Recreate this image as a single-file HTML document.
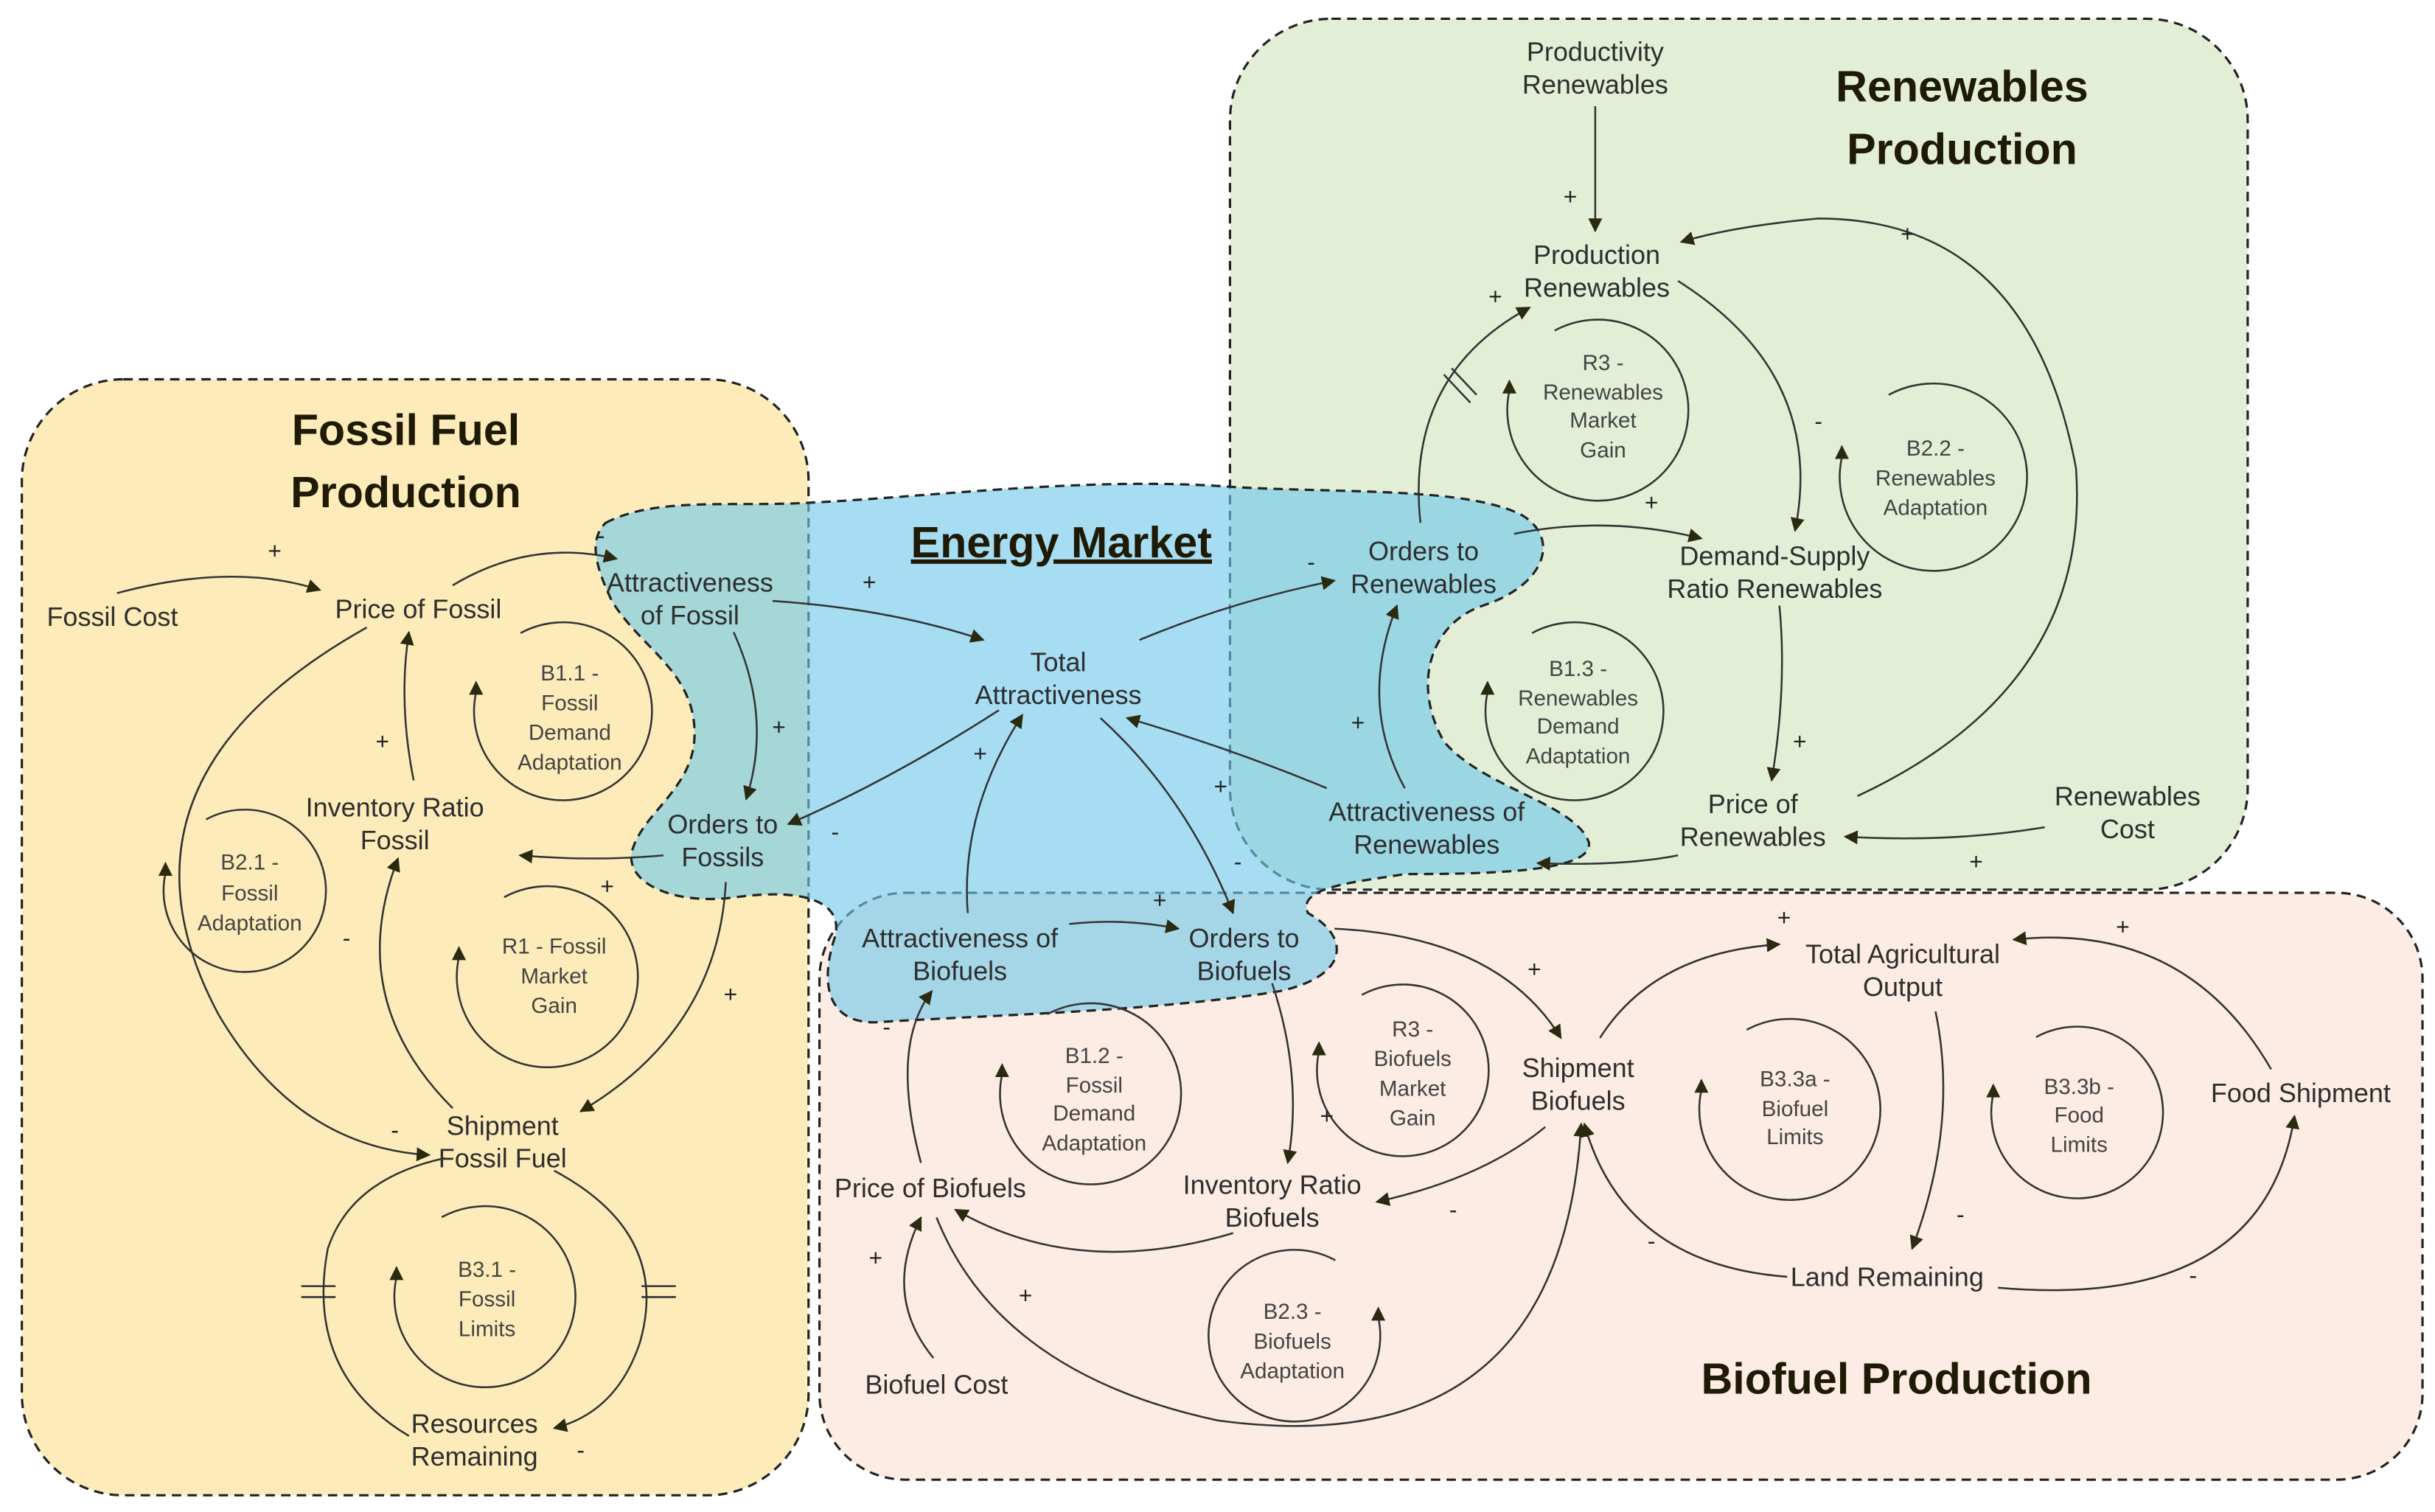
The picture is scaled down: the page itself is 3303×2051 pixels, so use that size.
<!DOCTYPE html>
<html><head><meta charset="utf-8"><style>
html,body{margin:0;padding:0;background:#fff;}
svg{display:block;}
text{font-family:"Liberation Sans",sans-serif;fill:#333;text-anchor:middle;}
.n{font-size:17px;fill:#2e2e2e;}
.l{font-size:14px;fill:#444;}
.p{font-size:15px;fill:#222;}
.t{font-size:28px;font-weight:bold;fill:#1e1a05;}
.a{fill:none;stroke:#333;stroke-width:1.2;marker-end:url(#ar);}
.c{fill:none;stroke:#333;stroke-width:1.2;}
</style></head><body>
<svg width="3303" height="2051" viewBox="0 0 1560 968.7" preserveAspectRatio="none" xmlns="http://www.w3.org/2000/svg">
<defs><marker id="ar" viewBox="0 0 10 10" refX="9" refY="5" markerWidth="9" markerHeight="9" markerUnits="userSpaceOnUse" orient="auto"><path d="M0,0 L10,5 L0,10 z" fill="#2a2a10"/></marker></defs>
<rect x="0" y="0" width="1560" height="969" fill="#fff"/>
<rect x="14" y="243" width="504" height="715" rx="65" fill="#fdecb9" stroke="#222" stroke-width="1.5" stroke-dasharray="6,4"/>
<rect x="788" y="12" width="652" height="558" rx="65" fill="#e2efd6" stroke="#222" stroke-width="1.5" stroke-dasharray="6,4"/>
<rect x="525" y="572" width="1027" height="376" rx="55" fill="#fcece3" stroke="#222" stroke-width="1.5" stroke-dasharray="6,4"/>
<path d="M388,335 C420,318 470,325 520,322 C600,318 700,305 790,312 C860,316 940,312 975,330 C1000,345 990,375 950,388 C915,400 905,440 925,475 C950,505 1010,515 1018,540 C1020,558 960,560 900,560 C870,565 830,568 838,585 C865,600 865,625 820,635 C740,648 640,650 560,655 C530,655 525,630 535,600 C540,580 520,568 470,575 C430,580 400,565 405,545 C412,520 445,505 445,470 C445,430 410,415 392,385 C380,360 378,345 388,335 Z" fill="#6fc8ec" fill-opacity="0.62" stroke="#222" stroke-width="1.5" stroke-dasharray="6,4"/>
<text class="t" x="260" y="285">Fossil Fuel</text><text class="t" x="260" y="325">Production</text>
<text class="t" x="1257" y="65">Renewables</text><text class="t" x="1257" y="105">Production</text>
<text class="t" x="680" y="357" text-decoration="underline">Energy Market</text>
<text class="t" x="1215" y="893">Biofuel Production</text>
<g>
<text class="n" x="72" y="401">Fossil Cost</text>
<text class="n" x="268" y="396">Price of Fossil</text>
<text class="n" x="442" y="379">Attractiveness</text><text class="n" x="442" y="400">of Fossil</text>
<text class="n" x="253" y="523">Inventory Ratio</text><text class="n" x="253" y="544">Fossil</text>
<text class="n" x="463" y="534">Orders to</text><text class="n" x="463" y="555">Fossils</text>
<text class="n" x="322" y="727">Shipment</text><text class="n" x="322" y="748">Fossil Fuel</text>
<text class="n" x="304" y="918">Resources</text><text class="n" x="304" y="939">Remaining</text>
<text class="n" x="678" y="430">Total</text><text class="n" x="678" y="451">Attractiveness</text>
<text class="n" x="615" y="607">Attractiveness of</text><text class="n" x="615" y="628">Biofuels</text>
<text class="n" x="797" y="607">Orders to</text><text class="n" x="797" y="628">Biofuels</text>
<text class="n" x="1022" y="39">Productivity</text><text class="n" x="1022" y="60">Renewables</text>
<text class="n" x="1023" y="169">Production</text><text class="n" x="1023" y="190">Renewables</text>
<text class="n" x="912" y="359">Orders to</text><text class="n" x="912" y="380">Renewables</text>
<text class="n" x="1137" y="362">Demand-Supply</text><text class="n" x="1137" y="383">Ratio Renewables</text>
<text class="n" x="914" y="526">Attractiveness of</text><text class="n" x="914" y="547">Renewables</text>
<text class="n" x="1123" y="521">Price of</text><text class="n" x="1123" y="542">Renewables</text>
<text class="n" x="1363" y="516">Renewables</text><text class="n" x="1363" y="537">Cost</text>
<text class="n" x="1219" y="617">Total Agricultural</text><text class="n" x="1219" y="638">Output</text>
<text class="n" x="1011" y="690">Shipment</text><text class="n" x="1011" y="711">Biofuels</text>
<text class="n" x="1474" y="706">Food Shipment</text>
<text class="n" x="1209" y="824">Land Remaining</text>
<text class="n" x="596" y="767">Price of Biofuels</text>
<text class="n" x="815" y="765">Inventory Ratio</text><text class="n" x="815" y="786">Biofuels</text>
<text class="n" x="600" y="893">Biofuel Cost</text>
</g>
<g>
<text class="l" x="365" y="436">B1.1 -</text><text class="l" x="365" y="455">Fossil</text><text class="l" x="365" y="474">Demand</text><text class="l" x="365" y="493">Adaptation</text>
<text class="l" x="160" y="557">B2.1 -</text><text class="l" x="160" y="577">Fossil</text><text class="l" x="160" y="596">Adaptation</text>
<text class="l" x="355" y="611">R1 - Fossil</text><text class="l" x="355" y="630">Market</text><text class="l" x="355" y="649">Gain</text>
<text class="l" x="312" y="818">B3.1 -</text><text class="l" x="312" y="837">Fossil</text><text class="l" x="312" y="856">Limits</text>
<text class="l" x="1027" y="237">R3 -</text><text class="l" x="1027" y="256">Renewables</text><text class="l" x="1027" y="274">Market</text><text class="l" x="1027" y="293">Gain</text>
<text class="l" x="1240" y="292">B2.2 -</text><text class="l" x="1240" y="311">Renewables</text><text class="l" x="1240" y="330">Adaptation</text>
<text class="l" x="1011" y="433">B1.3 -</text><text class="l" x="1011" y="452">Renewables</text><text class="l" x="1011" y="470">Demand</text><text class="l" x="1011" y="489">Adaptation</text>
<text class="l" x="701" y="681">B1.2 -</text><text class="l" x="701" y="700">Fossil</text><text class="l" x="701" y="718">Demand</text><text class="l" x="701" y="737">Adaptation</text>
<text class="l" x="905" y="664">R3 -</text><text class="l" x="905" y="683">Biofuels</text><text class="l" x="905" y="702">Market</text><text class="l" x="905" y="721">Gain</text>
<text class="l" x="828" y="845">B2.3 -</text><text class="l" x="828" y="864">Biofuels</text><text class="l" x="828" y="883">Adaptation</text>
<text class="l" x="1150" y="696">B3.3a -</text><text class="l" x="1150" y="715">Biofuel</text><text class="l" x="1150" y="733">Limits</text>
<text class="l" x="1332" y="701">B3.3b -</text><text class="l" x="1332" y="719">Food</text><text class="l" x="1332" y="738">Limits</text>
</g>
<path class="a" d="M333.5,405.6 A57,57 0 1 1 305,443.6 L305,437"/>
<path class="a" d="M132,525 A52,52 0 1 1 106,559.6 L106,553"/>
<path class="a" d="M323,574.8 A58,58 0 1 1 294,613.4 L294,607"/>
<path class="a" d="M283,779.8 A58,58 0 1 1 254,818.4 L254,812"/>
<path class="a" d="M996,211.8 A58,58 0 1 1 967,250.4 L967,244"/>
<path class="a" d="M1210,253 A60,60 0 1 1 1180,293 L1180,286"/>
<path class="a" d="M981.5,405.6 A57,57 0 1 1 953,443.6 L953,437"/>
<path class="a" d="M671,649.8 A58,58 0 1 1 642,688.4 L642,682"/>
<path class="a" d="M872.5,637.4 A55,55 0 1 1 845,674 L845,668"/>
<path class="a" d="M1119,659.8 A58,58 0 1 1 1090,698.4 L1090,692"/>
<path class="a" d="M1304.5,664.4 A55,55 0 1 1 1277,701 L1277,695"/>
<path class="a" d="M855.5,807.4 A55,55 0 1 0 883,844 L883,838"/>
<path class="a" d="M75,380 Q150,360 205,378"/>
<path class="a" d="M290,375 Q340,345 395,358"/>
<path class="a" d="M495,385 Q570,390 630,410"/>
<path class="a" d="M470,405 Q495,460 478,512"/>
<path class="a" d="M425,548 Q380,552 333,548"/>
<path class="a" d="M265,500 Q255,450 262,405"/>
<path class="a" d="M465,565 Q460,660 372,712"/>
<path class="a" d="M290,710 Q220,640 255,550"/>
<path class="a" d="M235,402 Q60,500 140,650 Q190,735 275,740"/>
<path class="a" d="M355,750 Q430,790 410,860 Q395,905 355,915"/>
<path class="c" d="M262,920 Q195,880 210,800 Q225,755 285,742"/>
<path class="c" d="M193,824 L215,824 M193,831 L215,831 M411,824 L433,824 M411,831 L433,831 M925,240 L942,258 M930,236 L946,253"/>
<path class="a" d="M640,455 Q570,500 505,528"/>
<path class="a" d="M730,410 Q790,385 855,372"/>
<path class="a" d="M705,460 Q760,510 790,585"/>
<path class="a" d="M620,585 Q615,520 655,458"/>
<path class="a" d="M850,505 Q790,480 722,460"/>
<path class="a" d="M900,505 Q870,450 895,388"/>
<path class="a" d="M685,592 Q720,588 755,595"/>
<path class="a" d="M910,335 Q900,240 980,197"/>
<path class="a" d="M970,342 Q1030,330 1090,345"/>
<path class="a" d="M1022,68 L1022,148"/>
<path class="a" d="M1075,180 Q1170,240 1150,340"/>
<path class="a" d="M1140,388 Q1145,440 1135,500"/>
<path class="a" d="M1190,510 Q1340,440 1330,300 Q1300,140 1165,140 Q1110,145 1077,155"/>
<path class="a" d="M1310,530 Q1250,540 1182,536"/>
<path class="a" d="M1075,548 Q1040,555 985,553"/>
<path class="a" d="M855,595 Q960,600 1000,665"/>
<path class="a" d="M815,630 Q835,690 825,745"/>
<path class="a" d="M990,722 Q950,755 882,770"/>
<path class="a" d="M790,790 Q690,820 612,775"/>
<path class="a" d="M590,745 Q570,670 597,635"/>
<path class="a" d="M598,870 Q565,830 590,780"/>
<path class="a" d="M600,780 Q640,880 780,910 Q1000,940 1013,720"/>
<path class="a" d="M1025,665 Q1060,610 1140,605"/>
<path class="a" d="M1455,685 Q1400,590 1290,602"/>
<path class="a" d="M1240,648 Q1255,720 1225,800"/>
<path class="a" d="M1145,818 Q1040,810 1015,720"/>
<path class="a" d="M1280,825 Q1450,840 1470,715"/>
<g>
<text class="p" x="176" y="358">+</text><text class="p" x="385" y="348">-</text><text class="p" x="557" y="378">+</text><text class="p" x="499" y="471">+</text>
<text class="p" x="245" y="480">+</text><text class="p" x="389" y="573">+</text><text class="p" x="222" y="606">-</text><text class="p" x="468" y="642">+</text>
<text class="p" x="253" y="729">-</text><text class="p" x="372" y="934">-</text><text class="p" x="628" y="488">+</text><text class="p" x="535" y="538">-</text>
<text class="p" x="840" y="365">-</text><text class="p" x="782" y="509">+</text><text class="p" x="793" y="557">-</text><text class="p" x="870" y="468">+</text>
<text class="p" x="743" y="582">+</text><text class="p" x="958" y="195">+</text><text class="p" x="1058" y="327">+</text><text class="p" x="1006" y="131">+</text>
<text class="p" x="1165" y="275">-</text><text class="p" x="1153" y="480">+</text><text class="p" x="1222" y="155">+</text><text class="p" x="1266" y="557">+</text>
<text class="p" x="983" y="626">+</text><text class="p" x="931" y="780">-</text><text class="p" x="568" y="663">-</text><text class="p" x="561" y="811">+</text>
<text class="p" x="657" y="835">+</text><text class="p" x="1143" y="593">+</text><text class="p" x="1360" y="599">+</text><text class="p" x="1256" y="783">-</text>
<text class="p" x="1058" y="800">-</text><text class="p" x="1405" y="822">-</text><text class="p" x="850" y="720">+</text>
</g>
</svg>
</body></html>
